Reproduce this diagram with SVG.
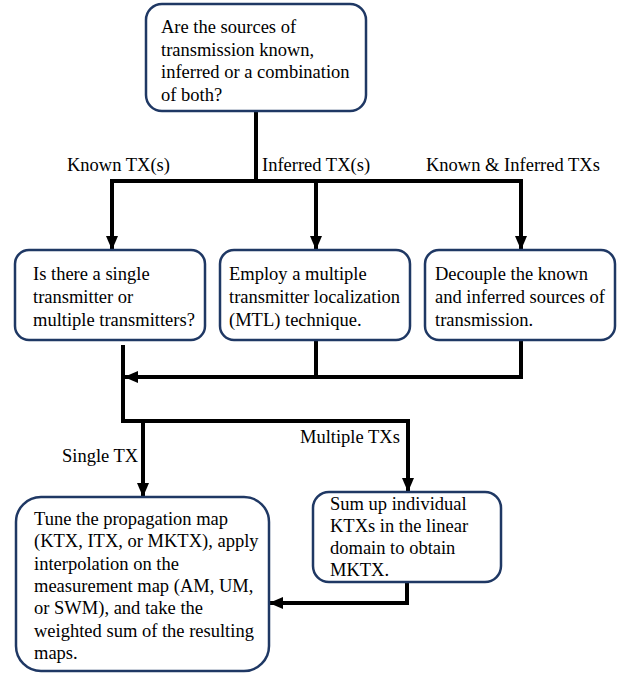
<svg xmlns="http://www.w3.org/2000/svg" width="628" height="673" viewBox="0 0 628 673" font-family="Liberation Serif, Times New Roman, serif">
<defs>
<style>
.box{fill:#fff;stroke:#1f3864;stroke-width:2.5}
.c{fill:none;stroke:#000;stroke-width:4;stroke-linejoin:miter}
.u{font-family:"Liberation Serif","Times New Roman",serif;font-size:18.5px;fill:#000}
</style>
<marker id="ah" markerUnits="userSpaceOnUse" markerWidth="14" markerHeight="14" viewBox="0 0 14 14" refX="13" refY="7" orient="auto">
<path d="M0,1 L14,7 L0,13 z" fill="#000"/>
</marker>
</defs>
<rect width="628" height="673" fill="#fff"/>
<g id="connectors">
<path class="c" d="M256,111 V181"/>
<path class="c" d="M110,181 H523"/>
<path class="c" d="M112,181 V249" marker-end="url(#ah)"/>
<path class="c" d="M316,181 V249" marker-end="url(#ah)"/>
<path class="c" d="M521,181 V249" marker-end="url(#ah)"/>
<path class="c" d="M316,340 V377"/>
<path class="c" d="M521,340 V377 H125" marker-end="url(#ah)"/>
<path class="c" d="M123,345 V421 H408 V491" marker-end="url(#ah)"/>
<path class="c" d="M143,421 V496" marker-end="url(#ah)"/>
<path class="c" d="M407,582 V603 H270" marker-end="url(#ah)"/>
<text class="u" x="67" y="171">Known TX(s)</text>
<text class="u" x="262" y="171">Inferred TX(s)</text>
<text class="u" x="426" y="171">Known &amp; Inferred TXs</text>
<text class="u" x="62" y="462">Single TX</text>
<text class="u" x="300" y="443">Multiple TXs</text>
</g>
<g id="n-top">
<rect class="box" x="146" y="4" width="220" height="107" rx="16"/>
<text class="u" x="161" y="33">Are the sources of</text>
<text class="u" x="161" y="55.7">transmission known,</text>
<text class="u" x="161" y="78.4">inferred or a combination</text>
<text class="u" x="161" y="101">of both?</text>
</g>
<g id="n-single-multi">
<rect class="box" x="15" y="250" width="190" height="90" rx="14"/>
<text class="u" x="33" y="280">Is there a single</text>
<text class="u" x="33" y="303">transmitter or</text>
<text class="u" x="33" y="326">multiple transmitters?</text>
</g>
<g id="n-mtl">
<rect class="box" x="220" y="250" width="190" height="90" rx="14"/>
<text class="u" x="229" y="280">Employ a multiple</text>
<text class="u" x="229" y="303">transmitter localization</text>
<text class="u" x="229" y="326">(MTL) technique.</text>
</g>
<g id="n-decouple">
<rect class="box" x="425" y="250" width="190" height="90" rx="14"/>
<text class="u" x="435" y="280">Decouple the known</text>
<text class="u" x="435" y="303">and inferred sources of</text>
<text class="u" x="435" y="326">transmission.</text>
</g>
<g id="n-tune">
<rect class="box" x="16" y="497" width="253" height="174" rx="25"/>
<text class="u" x="34" y="525">Tune the propagation map</text>
<text class="u" x="34" y="547.3">(KTX, ITX, or MKTX), apply</text>
<text class="u" x="34" y="569.6">interpolation on the</text>
<text class="u" x="34" y="592">measurement map (AM, UM,</text>
<text class="u" x="34" y="614.3">or SWM), and take the</text>
<text class="u" x="34" y="636.6">weighted sum of the resulting</text>
<text class="u" x="34" y="659">maps.</text>
</g>
<g id="n-sum">
<rect class="box" x="313" y="492" width="188" height="90" rx="16"/>
<text class="u" x="330" y="510">Sum up individual</text>
<text class="u" x="330" y="532">KTXs in the linear</text>
<text class="u" x="330" y="554">domain to obtain</text>
<text class="u" x="330" y="576">MKTX.</text>
</g>
</svg>
